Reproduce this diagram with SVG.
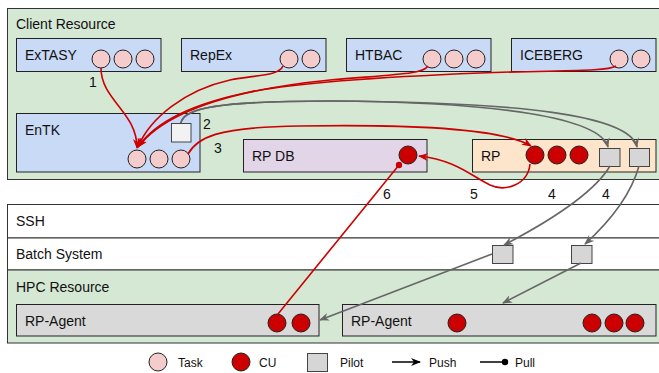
<svg xmlns="http://www.w3.org/2000/svg" width="659" height="373" viewBox="0 0 659 373">
<defs>
<style>
text{font-family:"Liberation Sans",Helvetica,Arial,sans-serif;font-size:14px;fill:#111}
.leg{font-size:12px}
.band{stroke:#333;stroke-width:1}
.box{stroke:#222;stroke-width:1}
.blue{fill:#c9daf6}
.task{fill:#f5cccc;stroke:#222;stroke-width:1}
.cu{fill:#cc0000;stroke:#222;stroke-width:1}
.pilot{fill:#d6d6d6;stroke:#444;stroke-width:1}
.red{fill:none;stroke:#cc0000;stroke-width:1.6}
.gray{fill:none;stroke:#666;stroke-width:1.6}
</style>
<marker id="ar" viewBox="0 0 10 8" refX="9" refY="4" markerWidth="10" markerHeight="8" markerUnits="userSpaceOnUse" orient="auto"><path d="M0,0 L10,4 L0,8 L3,4 Z" fill="#cc0000"/></marker>
<marker id="ag" viewBox="0 0 10 8" refX="9" refY="4" markerWidth="10" markerHeight="8" markerUnits="userSpaceOnUse" orient="auto"><path d="M0,0 L10,4 L0,8 L3,4 Z" fill="#666"/></marker>
<marker id="ak" viewBox="0 0 10 8" refX="9" refY="4" markerWidth="10" markerHeight="8" markerUnits="userSpaceOnUse" orient="auto"><path d="M0,0 L10,4 L0,8 L3,4 Z" fill="#000"/></marker>
</defs>
<rect width="659" height="373" fill="#fff"/>

<g id="client-resource">
<rect class="band" x="7.5" y="8.5" width="660" height="171" fill="#d5e8d4"/>
<text x="16" y="29">Client Resource</text>
</g>
<g id="ssh">
<rect class="band" x="7.5" y="204.5" width="660" height="33.5" fill="#fff"/>
<text x="16" y="226">SSH</text>
</g>
<g id="batch-system">
<rect class="band" x="7.5" y="238" width="660" height="32" fill="#fff"/>
<text x="16" y="259">Batch System</text>
</g>
<g id="hpc-resource">
<rect class="band" x="7.5" y="270" width="660" height="73" fill="#d5e8d4"/>
<text x="16" y="292">HPC Resource</text>
</g>

<g id="extasy">
<rect class="box blue" x="16.5" y="38.5" width="144.5" height="33"/>
<text x="25" y="60">ExTASY</text>
<circle class="task" cx="101" cy="59" r="9"/><circle class="task" cx="123" cy="59" r="9"/><circle class="task" cx="145" cy="59" r="9"/>
</g>
<g id="repex">
<rect class="box blue" x="181.5" y="38.5" width="144.5" height="33"/>
<text x="190" y="60">RepEx</text>
<circle class="task" cx="289" cy="59" r="9"/><circle class="task" cx="311" cy="59" r="9"/>
</g>
<g id="htbac">
<rect class="box blue" x="346.5" y="38.5" width="144.5" height="33"/>
<text x="355" y="60">HTBAC</text>
<circle class="task" cx="432" cy="59" r="9"/><circle class="task" cx="454" cy="59" r="9"/><circle class="task" cx="476" cy="59" r="9"/>
</g>
<g id="iceberg">
<rect class="box blue" x="511.5" y="38.5" width="144.5" height="33"/>
<text x="520" y="60">ICEBERG</text>
<circle class="task" cx="619" cy="59" r="9"/><circle class="task" cx="641" cy="59" r="9"/>
</g>
<g id="entk">
<rect class="box blue" x="16.5" y="113.5" width="183.5" height="58.5"/>
<text x="25" y="135">EnTK</text>
<rect x="171.5" y="123.5" width="19.5" height="18.5" fill="#f2f2f2" stroke="#444"/>
<circle class="task" cx="137" cy="159" r="9"/><circle class="task" cx="159" cy="159" r="9"/><circle class="task" cx="181" cy="159" r="9"/>
</g>
<g id="rp-db">
<rect class="box" x="243.5" y="139.5" width="183.5" height="32.5" fill="#e1d5e7"/>
<text x="252" y="161">RP DB</text>
<circle class="cu" cx="408" cy="155" r="9"/>
</g>
<g id="rp">
<rect class="box" x="472.5" y="139.5" width="183.5" height="32.5" fill="#fde5cc"/>
<text x="481" y="161">RP</text>
<circle class="cu" cx="535" cy="155" r="9"/><circle class="cu" cx="557" cy="155" r="9"/><circle class="cu" cx="579" cy="155" r="9"/>
<rect class="pilot" x="599.5" y="148.5" width="20.5" height="18"/>
<rect class="pilot" x="629.5" y="148.5" width="20" height="18"/>
</g>
<g id="batch-pilots">
<rect class="pilot" x="492.5" y="245.5" width="20.5" height="18"/>
<rect class="pilot" x="571.5" y="245.5" width="20.5" height="18"/>
</g>
<g id="rp-agent-1">
<rect class="box" x="16.5" y="304.5" width="302.5" height="31.5" fill="#d9d9d9"/>
<text x="25" y="326">RP-Agent</text>
<circle class="cu" cx="277" cy="323" r="9"/><circle class="cu" cx="301" cy="323" r="9"/>
</g>
<g id="rp-agent-2">
<rect class="box" x="342.5" y="304.5" width="313.5" height="31.5" fill="#d9d9d9"/>
<text x="351" y="326">RP-Agent</text>
<circle class="cu" cx="457" cy="323" r="9"/><circle class="cu" cx="592" cy="323" r="9"/><circle class="cu" cx="614" cy="323" r="9"/><circle class="cu" cx="635" cy="323" r="9"/>
</g>

<g id="connectors">
<path class="red" marker-end="url(#ar)" d="M101,68 C101,100 137,112 137,148"/>
<path class="red" marker-end="url(#ar)" d="M283,66 C279,76 255,75 230,80 C185,90 150,118 138,147"/>
<path class="red" marker-end="url(#ar)" d="M428,66 C423,74 400,74 330,80 C230,90 165,112 138,147"/>
<path class="red" marker-end="url(#ar)" d="M616,66 C606,72 560,70 480,73 C380,77 300,82 250,92 C190,104 155,122 138,147"/>
<path class="gray" marker-end="url(#ag)" d="M181,123 C183,108 220,101 330,101 C500,102 600,118 608,147"/>
<path class="gray" marker-end="url(#ag)" d="M181,123 C183,108 220,101 330,101 C520,102 630,115 637,147"/>
<path class="red" marker-end="url(#ar)" d="M188,154 C197,138 215,127 300,126 C430,124 505,130 531,146"/>
<path class="red" marker-end="url(#ar)" d="M530,164 C528,185 505,192 490,185 C470,175 455,160 419,156"/>
<path class="red" d="M278,314 L399,165"/>
<circle cx="399" cy="165" r="3.2" fill="#cc0000"/>
<path class="gray" marker-end="url(#ag)" d="M610,166 Q590,200 504,245"/>
<path class="gray" marker-end="url(#ag)" d="M639,166 Q628,205 585,244"/>
<path class="gray" marker-end="url(#ag)" d="M492,254 L320,320"/>
<path class="gray" marker-end="url(#ag)" d="M581,263 L503,303"/>
<text x="93" y="87" text-anchor="middle">1</text>
<text x="207" y="129" text-anchor="middle">2</text>
<text x="218" y="153" text-anchor="middle">3</text>
<text x="387" y="199" text-anchor="middle">6</text>
<text x="474" y="199" text-anchor="middle">5</text>
<text x="552" y="199" text-anchor="middle">4</text>
<text x="606" y="199" text-anchor="middle">4</text>
</g>

<g id="legend">
<circle class="task" cx="158" cy="362" r="9"/>
<text class="leg" x="178" y="367">Task</text>
<circle class="cu" cx="241" cy="362" r="9"/>
<text class="leg" x="259" y="367">CU</text>
<rect class="pilot" x="307.5" y="353.5" width="20" height="18"/>
<text class="leg" x="340" y="367">Pilot</text>
<path d="M392,362 L420,362" stroke="#000" stroke-width="1.5" marker-end="url(#ak)"/>
<text class="leg" x="429" y="367">Push</text>
<path d="M480,362 L503,362" stroke="#000" stroke-width="1.5"/>
<circle cx="505" cy="362" r="3.2" fill="#000"/>
<text class="leg" x="515" y="367">Pull</text>
</g>
</svg>
